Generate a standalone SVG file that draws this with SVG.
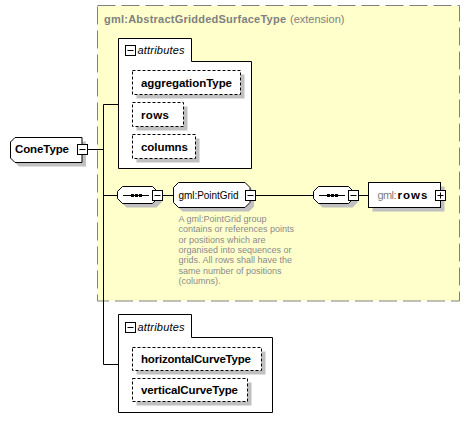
<svg xmlns="http://www.w3.org/2000/svg" width="470" height="431" viewBox="0 0 470 431">
<defs>
<style>
text{font-family:"Liberation Sans",Arial,sans-serif;fill:#000}
.b{font-weight:bold;font-size:11.5px}
.i{font-style:italic;font-size:11px}
.n{font-size:10px}
.g{fill:#808080}
.d{font-size:9px;fill:#8a8a8a}
.box{fill:#fff;stroke:#000;stroke-width:1}
.dot{fill:#fff;stroke:#000;stroke-width:1;stroke-dasharray:3,2}
.sh{fill:#c0c0c0}
.ln{stroke:#000;stroke-width:1;fill:none}
</style>
</defs>
<rect width="470" height="431" fill="#fff"/>

<g id="extension">
<rect x="97.5" y="5.5" width="362" height="295.5" fill="#ffffcc" stroke="#808080" stroke-dasharray="18,6"/>
<text x="104" y="22.5" class="g" style="font-weight:bold;font-size:11px" textLength="182">gml:AbstractGriddedSurfaceType</text>
<text x="290" y="22.5" class="g" style="font-size:11px">(extension)</text>
</g>

<g id="connectors">
<line class="ln" x1="87" y1="149.5" x2="103.5" y2="149.5"/>
<line class="ln" x1="103.5" y1="104.5" x2="103.5" y2="364.5"/>
<line class="ln" x1="103.5" y1="104.5" x2="118.5" y2="104.5"/>
<line class="ln" x1="103.5" y1="195.5" x2="117.5" y2="195.5"/>
<line class="ln" x1="163" y1="195.5" x2="173.5" y2="195.5"/>
<line class="ln" x1="255" y1="195.5" x2="313.5" y2="195.5"/>
<line class="ln" x1="358" y1="195.5" x2="368.5" y2="195.5"/>
<line class="ln" x1="103.5" y1="364.5" x2="118.5" y2="364.5"/>
</g>

<g id="ConeType">
<polygon class="sh" points="19,141.5 86,141.5 86,166.5 19,166.5 14.5,162 14.5,146"/>
<polygon class="box" points="15,137.5 82,137.5 82,162.5 15,162.5 10.5,158 10.5,142"/>
<text x="15" y="153" class="b" textLength="54">ConeType</text>
<rect class="box" x="77.5" y="144.5" width="10" height="10"/>
<line class="ln" x1="79.5" y1="149.5" x2="85.5" y2="149.5"/>
</g>

<g id="attributes1">
<path class="box" d="M118.5,168.5 V38.5 H191.5 V61.5 H251.5 V168.5 Z"/>
<rect class="box" x="125.5" y="45.5" width="10" height="10"/>
<line class="ln" x1="127.5" y1="50.5" x2="133.5" y2="50.5"/>
<text x="137.5" y="54" class="i" textLength="47">attributes</text>
</g>

<g id="aggregationType">
<rect class="sh" x="136.5" y="74.5" width="108" height="24"/>
<rect class="dot" x="132.5" y="70.5" width="108" height="24"/>
<text x="141" y="86.5" class="b" textLength="91">aggregationType</text>
</g>
<g id="rows">
<rect class="sh" x="136.5" y="106.5" width="51" height="24"/>
<rect class="dot" x="132.5" y="102.5" width="51" height="24"/>
<text x="141" y="118.5" class="b" textLength="28">rows</text>
</g>
<g id="columns">
<rect class="sh" x="136.5" y="138.5" width="63" height="24"/>
<rect class="dot" x="132.5" y="134.5" width="63" height="24"/>
<text x="141" y="150.5" class="b" textLength="47">columns</text>
</g>

<g id="sequence1">
<polygon class="sh" points="126.5,190.5 156.5,190.5 161.5,195.5 161.5,202.5 156.5,207.5 126.5,207.5 121.5,202.5 121.5,195.5"/>
<polygon class="box" points="122.5,186.5 152.5,186.5 157.5,191.5 157.5,198.5 152.5,203.5 122.5,203.5 117.5,198.5 117.5,191.5"/>
<line class="ln" x1="123" y1="195.5" x2="149" y2="195.5"/>
<rect x="131" y="194" width="3" height="3"/>
<rect x="135" y="194" width="3" height="3"/>
<rect x="139" y="194" width="3" height="3"/>
<rect class="box" x="152.5" y="190.5" width="10" height="10"/>
<line class="ln" x1="154.5" y1="195.5" x2="160.5" y2="195.5"/>
</g>

<g id="PointGrid">
<polygon class="sh" points="182.5,186.5 249,186.5 254,191.5 254,206.5 249,211.5 182.5,211.5 177.5,206.5 177.5,191.5"/>
<polygon class="box" points="178.5,182.5 245,182.5 250,187.5 250,202.5 245,207.5 178.5,207.5 173.5,202.5 173.5,187.5"/>
<text x="178.5" y="198.5" class="n" textLength="60">gml:PointGrid</text>
<rect class="box" x="245.5" y="190.5" width="10" height="10"/>
<line class="ln" x1="247.5" y1="195.5" x2="253.5" y2="195.5"/>
<text class="d" x="178.5" y="222">A gml:PointGrid group</text>
<text class="d" x="178.5" y="232.3">contains or references points</text>
<text class="d" x="178.5" y="242.6">or positions which are</text>
<text class="d" x="178.5" y="252.9">organised into sequences or</text>
<text class="d" x="178.5" y="263.2">grids. All rows shall have the</text>
<text class="d" x="178.5" y="273.5">same number of positions</text>
<text class="d" x="178.5" y="283.8">(columns).</text>
</g>

<g id="sequence2">
<polygon class="sh" points="322.5,190.5 352.5,190.5 357.5,195.5 357.5,202.5 352.5,207.5 322.5,207.5 317.5,202.5 317.5,195.5"/>
<polygon class="box" points="318.5,186.5 348.5,186.5 353.5,191.5 353.5,198.5 348.5,203.5 318.5,203.5 313.5,198.5 313.5,191.5"/>
<line class="ln" x1="319" y1="195.5" x2="345" y2="195.5"/>
<rect x="327" y="194" width="3" height="3"/>
<rect x="331" y="194" width="3" height="3"/>
<rect x="335" y="194" width="3" height="3"/>
<rect class="box" x="348.5" y="190.5" width="10" height="10"/>
<line class="ln" x1="350.5" y1="195.5" x2="356.5" y2="195.5"/>
</g>

<g id="gml_rows">
<rect class="sh" x="372.5" y="186.5" width="72" height="25"/>
<rect class="box" x="368.5" y="182.5" width="72" height="25"/>
<text x="377.5" y="199" class="g" style="font-size:11px" textLength="19">gml:</text>
<text x="397.5" y="199" class="b" textLength="30">rows</text>
<rect class="box" x="435.5" y="190.5" width="10" height="10"/>
<line class="ln" x1="437.5" y1="195.5" x2="443.5" y2="195.5"/>
<line class="ln" x1="440.5" y1="192.5" x2="440.5" y2="198.5"/>
</g>

<g id="attributes2">
<path class="box" d="M118.5,412.5 V314.5 H191.5 V337.5 H272.5 V412.5 Z"/>
<rect class="box" x="125.5" y="322.5" width="10" height="10"/>
<line class="ln" x1="127.5" y1="327.5" x2="133.5" y2="327.5"/>
<text x="137.5" y="331" class="i" textLength="47">attributes</text>
</g>
<g id="horizontalCurveType">
<rect class="sh" x="136.5" y="351.5" width="129" height="23"/>
<rect class="dot" x="132.5" y="347.5" width="129" height="23"/>
<text x="141" y="362.5" class="b" textLength="110">horizontalCurveType</text>
</g>
<g id="verticalCurveType">
<rect class="sh" x="136.5" y="382.5" width="115" height="23"/>
<rect class="dot" x="132.5" y="378.5" width="115" height="23"/>
<text x="141" y="393.5" class="b" textLength="97">verticalCurveType</text>
</g>
</svg>
